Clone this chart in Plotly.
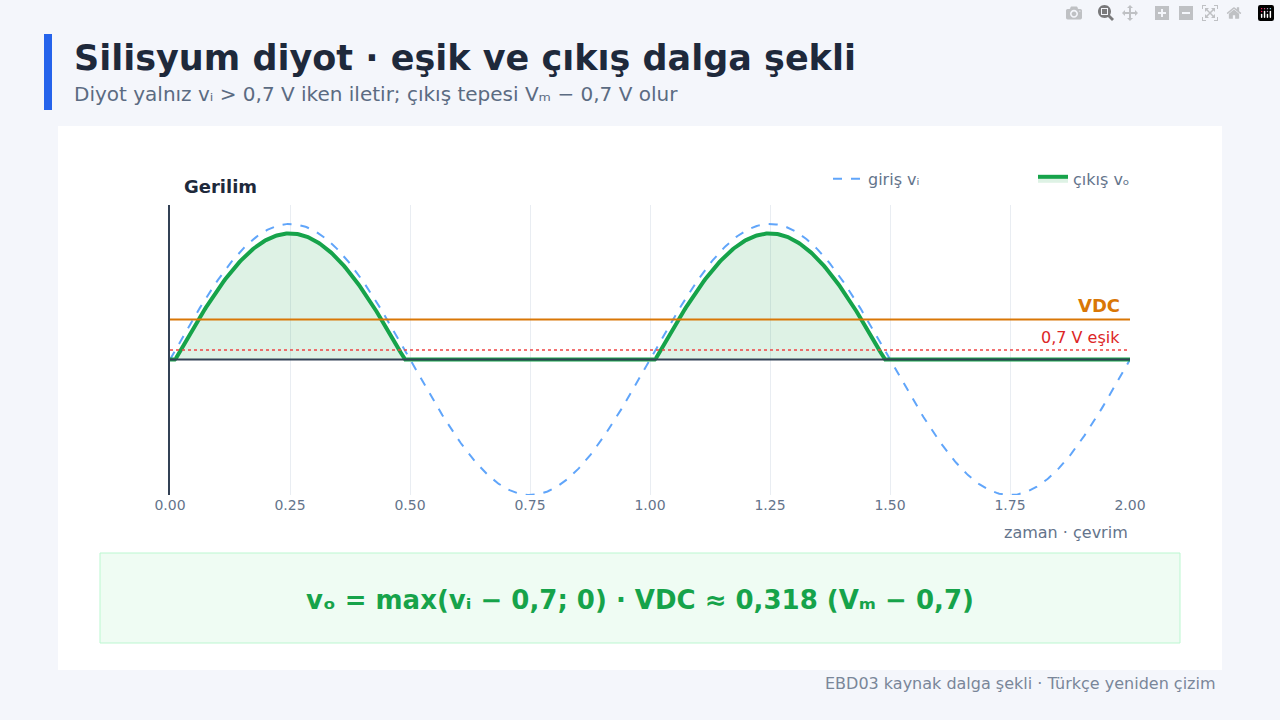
import numpy as np
import plotly.graph_objects as go

Vm = 10.0
threshold = 0.7
cycles = 2.0
tick_vals = [0, 0.25, 0.5, 0.75, 1.0, 1.25, 1.5, 1.75, 2.0]
tick_text = ["0.00", "0.25", "0.50", "0.75", "1.00", "1.25", "1.50", "1.75", "2.00"]

t = np.linspace(0, cycles, 801)
vi = Vm * np.sin(2 * np.pi * t)
vo = np.maximum(vi - threshold, 0)
vdc = 0.318 * (Vm - threshold)

fig = go.Figure()
fig.add_trace(go.Scatter(x=t, y=vi, mode="lines", name="giriş vᵢ",
                         line=dict(color="#60a5fa", width=2, dash="dash")))
fig.add_trace(go.Scatter(x=t, y=vo, mode="lines", name="çıkış vₒ", fill="tozeroy",
                         fillcolor="rgba(22,163,74,0.14)",
                         line=dict(color="#16a34a", width=4)))

fig.add_shape(type="line", x0=0, x1=2, y0=0, y1=0, line=dict(color="#334155", width=2))
fig.add_shape(type="line", x0=0, x1=2, y0=vdc, y1=vdc, line=dict(color="#d97706", width=2))
fig.add_shape(type="line", x0=0, x1=2, y0=threshold, y1=threshold,
              line=dict(color="#ef4444", width=1.5, dash="dot"))

fig.update_layout(
    width=1280, height=720, paper_bgcolor="#f4f6fb", plot_bgcolor="white",
    margin=dict(l=170, r=150, t=205, b=225),
    font=dict(family="DejaVu Sans", color="#64748b"),
    showlegend=True,
    legend=dict(orientation="h", x=(828 - 170) / 960, xanchor="left", y=1.09, yanchor="middle",
                bgcolor="rgba(0,0,0,0)", font=dict(size=16, color="#64748b"),
                itemwidth=30, entrywidth=160),
    xaxis=dict(range=[0, 2], tickvals=tick_vals, ticktext=tick_text, showgrid=True,
               gridcolor="#e9edf2", zeroline=False, showline=False,
               tickfont=dict(size=14, color="#64748b"), ticks=""),
    yaxis=dict(range=[-10, 11.4], showticklabels=False, showgrid=False, zeroline=False,
               showline=True, linecolor="#334155", linewidth=2),
    shapes=list(fig.layout.shapes) + [
        dict(type="rect", xref="paper", yref="paper", x0=-112/960, x1=1052/960,
             y0=-(670-495)/290, y1=(495-126)/290, fillcolor="white", line=dict(width=0), layer="below"),
        dict(type="rect", xref="paper", yref="paper", x0=-70/960, x1=1010/960,
             y0=-(643-495)/290, y1=-(553-495)/290, fillcolor="#effcf3",
             line=dict(color="#bbf7d0", width=1), layer="below"),
        dict(type="rect", xref="paper", yref="paper", x0=-126/960, x1=-118/960,
             y0=(495-110)/290, y1=(495-34)/290, fillcolor="#2563eb", line=dict(width=0)),
    ],
)

def pa(x, y):
    return (x - 170) / 960, (495 - y) / 290

ann = []
def add(text, x, y, size, color, xanchor="left", bold=False):
    px, py = pa(x, y)
    ann.append(dict(text=f"<b>{text}</b>" if bold else text, x=px, y=py, xref="paper", yref="paper",
                    xanchor=xanchor, yanchor="middle", showarrow=False,
                    font=dict(size=size, color=color)))

add("Silisyum diyot · eşik ve çıkış dalga şekli", 72, 58, 35, "#1e293b", bold=True)
add("Diyot yalnız vᵢ > 0,7 V iken iletir; çıkış tepesi Vₘ − 0,7 V olur", 72, 94, 20, "#5b6b82")
add("Gerilim", 182, 186, 18, "#1e293b", bold=True)
add("VDC", 1122, 305, 18, "#d97706", xanchor="right", bold=True)
add("0,7 V eşik", 1122, 337, 16, "#dc2626", xanchor="right")
add("zaman · çevrim", 1130, 532, 16, "#64748b", xanchor="right")
add("vₒ = max(vᵢ − 0,7; 0) · VDC ≈ 0,318 (Vₘ − 0,7)", 640, 600, 26, "#16a34a", xanchor="center", bold=True)
add("EBD03 kaynak dalga şekli · Türkçe yeniden çizim", 1218, 683, 16, "#7a8699", xanchor="right")
fig.update_layout(annotations=ann)

fig.write_html("out.html")

with open("out.html", "r", encoding="utf-8") as f:
    html = f.read()
html = html.replace("<head>", "<head><style>html,body{margin:0;padding:0;overflow:hidden;background:#f4f6fb;}</style>", 1)
with open("out.html", "w", encoding="utf-8") as f:
    f.write(html)
